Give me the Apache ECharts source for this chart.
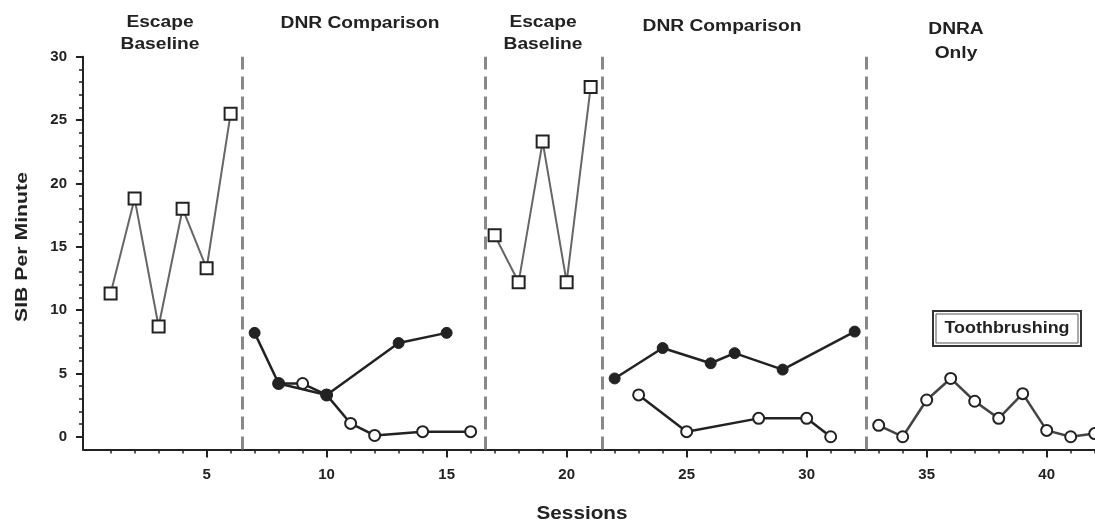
<!DOCTYPE html>
<html>
<head>
<meta charset="utf-8">
<script src="https://cdn.jsdelivr.net/npm/echarts@6/dist/echarts.min.js"></script>
<style>
  html, body { margin: 0; padding: 0; background: #fff; }
  #chart { width: 1095px; height: 526px; }
</style>
</head>
<body>
<div id="chart"></div>
<script>
// SIB per minute across sessions, by treatment phase
const escape1Sessions = [1, 2, 3, 4, 5, 6];
const escape1Values   = [11.3, 18.8, 8.7, 18.0, 13.3, 25.5];

const dnr1FilledSessions = [7, 8, 10, 13, 15];
const dnr1FilledValues   = [8.2, 4.2, 3.3, 7.4, 8.2];
const dnr1OpenSessions   = [8, 9, 10, 11, 12, 14, 16];
const dnr1OpenValues     = [4.2, 4.2, 3.3, 1.05, 0.1, 0.4, 0.4];

const escape2Sessions = [17, 18, 19, 20, 21];
const escape2Values   = [15.9, 12.2, 23.3, 12.2, 27.6];

const dnr2FilledSessions = [22, 24, 26, 27, 29, 32];
const dnr2FilledValues   = [4.6, 7.0, 5.8, 6.6, 5.3, 8.3];
const dnr2OpenSessions   = [23, 25, 28, 30, 31];
const dnr2OpenValues     = [3.3, 0.4, 1.45, 1.45, 0.0];

const dnraSessions = [33, 34, 35, 36, 37, 38, 39, 40, 41, 42];
const dnraValues   = [0.9, 0.0, 2.9, 4.6, 2.8, 1.45, 3.4, 0.5, 0.0, 0.25];

// Phase-change lines (between sessions)
const phaseChanges = [6.5, 16.6, 21.5, 32.5];

// Axis ticks
const xTickLabels = [5, 10, 15, 20, 25, 30, 35, 40];
const xMinorTicks = Array.from({ length: 42 }, (_, i) => i + 1);
const yTickLabels = [0, 5, 10, 15, 20, 25, 30];
const yMinorTicks = Array.from({ length: 31 }, (_, i) => i);

const phaseTitles = ['Escape\nBaseline', 'DNR Comparison', 'Escape\nBaseline', 'DNR Comparison', 'DNRA\nOnly'];

const pair = (xs, ys) => xs.map((x, i) => [x, ys[i]]);

const FONT = 'Liberation Sans, Arial, sans-serif';
const INK = '#222';
const WIDE = 1.2; // horizontal stretch for the heavy header type

const chart = echarts.init(document.getElementById('chart'), null, { renderer: 'canvas' });

const xRange = { min: -0.15, max: 42 };
const yRange = { min: -1, max: 30 };

function openSeries(data, symbol, size, lineColor, width) {
  return {
    type: 'line',
    data: data,
    symbol: symbol,
    symbolSize: size,
    lineStyle: { color: lineColor, width: width },
    itemStyle: { color: '#fff', borderColor: INK, borderWidth: 2 },
    emphasis: { disabled: true },
    clip: false,
    z: 3
  };
}

function filledSeries(data) {
  return {
    type: 'line',
    data: data,
    symbol: 'circle',
    symbolSize: 11,
    lineStyle: { color: INK, width: 2.5 },
    itemStyle: { color: INK, borderColor: INK, borderWidth: 1 },
    emphasis: { disabled: true },
    clip: false,
    z: 4
  };
}

function header(text, x, y, size, lineHeight) {
  return {
    type: 'text', x: x, y: y, scaleX: WIDE,
    style: { text: text, fill: INK, font: 'bold ' + size + 'px ' + FONT, textAlign: 'center', lineHeight: lineHeight || size + 4 }
  };
}

const option = {
  animation: false,
  backgroundColor: '#fff',
  grid: { left: 83, right: 0.3, top: 56.7, bottom: 76.6, containLabel: false },
  xAxis: [
    {
      type: 'value', min: xRange.min, max: xRange.max,
      axisLine: { show: true, onZero: false, lineStyle: { color: INK, width: 2 } },
      axisTick: { show: true, customValues: xTickLabels, length: 8, lineStyle: { color: INK, width: 2 } },
      axisLabel: { customValues: xTickLabels, margin: 18, color: INK, fontWeight: 'bold', fontSize: 15, fontFamily: FONT },
      splitLine: { show: false }
    },
    {
      type: 'value', min: xRange.min, max: xRange.max, position: 'bottom',
      axisLine: { show: false, onZero: false },
      axisTick: { show: true, customValues: xMinorTicks, length: 4, lineStyle: { color: INK, width: 1.5 } },
      axisLabel: { show: false },
      splitLine: { show: false }
    }
  ],
  yAxis: [
    {
      type: 'value', min: yRange.min, max: yRange.max,
      axisLine: { show: true, onZero: false, lineStyle: { color: INK, width: 2 } },
      axisTick: { show: true, customValues: yTickLabels, length: 7, lineStyle: { color: INK, width: 2 } },
      axisLabel: { customValues: yTickLabels, margin: 16, color: INK, fontWeight: 'bold', fontSize: 15, fontFamily: FONT },
      splitLine: { show: false }
    },
    {
      type: 'value', min: yRange.min, max: yRange.max, position: 'left',
      axisLine: { show: false, onZero: false },
      axisTick: { show: true, customValues: yMinorTicks, length: 4, lineStyle: { color: INK, width: 1.5 } },
      axisLabel: { show: false },
      splitLine: { show: false }
    }
  ],
  series: [
    Object.assign(openSeries(pair(escape1Sessions, escape1Values), 'rect', 12, '#666', 2), {
      markLine: {
        silent: true,
        symbol: ['none', 'none'],
        label: { show: false },
        lineStyle: { color: '#888', width: 3, type: [13, 7] },
        data: phaseChanges.map(v => ({ xAxis: v }))
      }
    }),
    openSeries(pair(dnr1OpenSessions, dnr1OpenValues), 'circle', 11, INK, 2.5),
    filledSeries(pair(dnr1FilledSessions, dnr1FilledValues)),
    openSeries(pair(escape2Sessions, escape2Values), 'rect', 12, '#666', 2),
    openSeries(pair(dnr2OpenSessions, dnr2OpenValues), 'circle', 11, INK, 2.5),
    filledSeries(pair(dnr2FilledSessions, dnr2FilledValues)),
    openSeries(pair(dnraSessions, dnraValues), 'circle', 11, '#444', 2.5)
  ],
  graphic: [
    // phase titles
    header(phaseTitles[0], 160, 12, 16, 22),
    header(phaseTitles[1], 360, 14, 16),
    header(phaseTitles[2], 543, 12, 16, 22),
    header(phaseTitles[3], 722, 17, 16),
    header(phaseTitles[4], 956, 18, 16, 24),
    // axis titles
    { type: 'text', x: 582, y: 505, scaleX: 1.15, style: { text: 'Sessions', fill: INK, font: 'bold 18px ' + FONT, textAlign: 'center' } },
    { type: 'text', x: 22, y: 247, rotation: Math.PI / 2, scaleX: 1.25, style: { text: 'SIB Per Minute', fill: INK, font: 'bold 17px ' + FONT, textAlign: 'center', textVerticalAlign: 'middle' } },
    // condition key
    { type: 'rect', shape: { x: 933, y: 311, width: 148, height: 35 }, style: { fill: '#fff', stroke: '#333', lineWidth: 2 } },
    { type: 'rect', shape: { x: 936, y: 314, width: 142, height: 29 }, style: { fill: 'none', stroke: '#555', lineWidth: 1 } },
    { type: 'text', x: 1007, y: 328.5, scaleX: 1.12, style: { text: 'Toothbrushing', fill: INK, font: 'bold 16px ' + FONT, textAlign: 'center', textVerticalAlign: 'middle' } }
  ]
};

chart.setOption(option);
</script>
</body>
</html>
